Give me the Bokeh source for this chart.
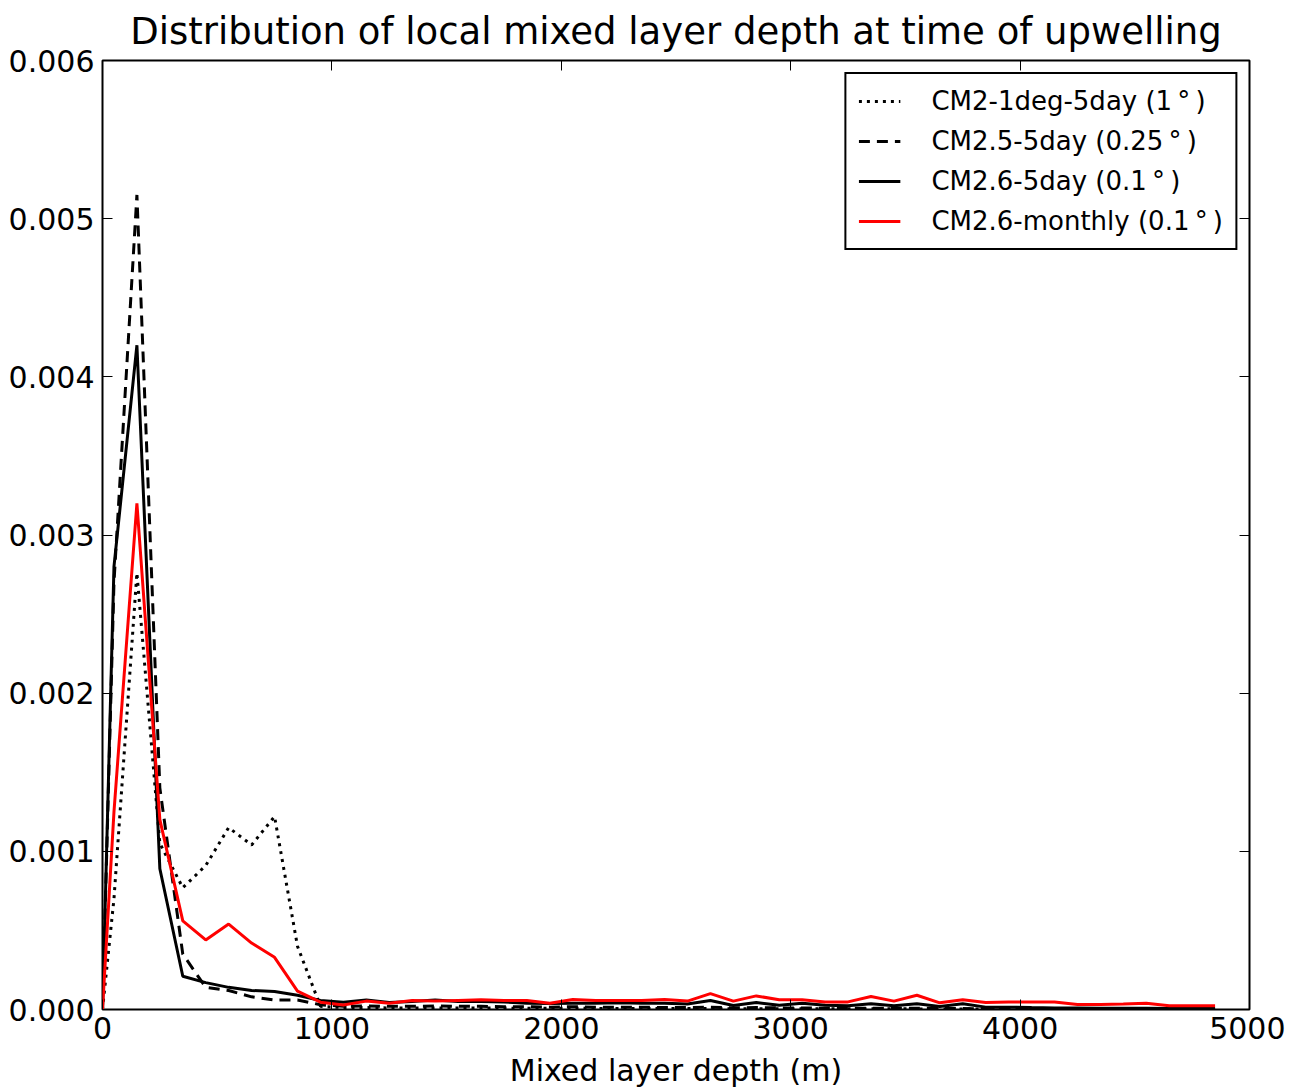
from bokeh.plotting import figure
from bokeh.models import (Range1d, LinearAxis, FixedTicker, NumeralTickFormatter,
                          Legend, LegendItem)
from bokeh.embed import file_html
from bokeh.resources import INLINE

# ---- data ----
depth = [0, 50, 150, 250, 350, 450, 550, 650, 750, 850, 950,
         1050, 1150, 1250, 1350, 1450, 1550, 1650, 1750, 1850, 1950,
         2050, 2150, 2250, 2350, 2450, 2550, 2650, 2750, 2850, 2950,
         3050, 3150, 3250, 3350, 3450, 3550, 3650, 3750, 3850, 3950,
         4050, 4150, 4250, 4350, 4450, 4550, 4650, 4750, 4850]

cm2_1deg_5day = [0, 0.0007, 0.00276, 0.00105, 0.00077, 0.00091, 0.00115, 0.00104, 0.00122, 0.0004, 0.00002,
                 0.000012, 0.000012, 0.00001, 0.00001, 0.00001, 0.00001, 0.000009, 0.000009, 0.000008, 0.000008,
                 0.000008, 0.000007, 0.000007, 0.000007, 0.000006, 0.000006, 0.000006, 0.000005, 0.000005, 0.000005,
                 0.000005, 0.000004, 0.000004, 0.000004, 0.000004, 0.000004, 0.000003, 0.000003, 0.000003, 0.000003,
                 0.000003, 0.000002, 0.000002, 0.000002, 0.000002, 0.000002, 0.000002, 0.000001, 0.000001]

cm25_5day = [0, 0.0027, 0.00515, 0.0014, 0.00035, 0.00014, 0.00012, 0.00008, 0.00006, 0.00006, 0.00003,
             0.00002, 0.000022, 0.00002, 0.00002, 0.000022, 0.00002, 0.00002, 0.000018, 0.000018, 0.000015,
             0.000018, 0.000015, 0.000015, 0.000015, 0.000012, 0.000012, 0.000015, 0.00001, 0.000012, 0.00001,
             0.00001, 0.000008, 0.000008, 0.000008, 0.000008, 0.000008, 0.000006, 0.000006, 0.000005, 0.000005,
             0.000004, 0.000004, 0.000004, 0.000003, 0.000003, 0.000003, 0.000003, 0.000002, 0.000002]

cm26_5day = [0, 0.0028, 0.0042, 0.00089, 0.00021, 0.00017, 0.00014, 0.00012, 0.000114, 0.00009, 0.000057,
             0.000046, 0.00006, 0.000044, 0.00005, 0.00006, 0.00005, 0.00005, 0.000048, 0.00004, 0.000038,
             0.00004, 0.00004, 0.000042, 0.00004, 0.00004, 0.000035, 0.000057, 0.000025, 0.000044, 0.000027,
             0.00004, 0.000027, 0.000023, 0.000036, 0.000023, 0.000036, 0.000019, 0.000036, 0.000015, 0.000015,
             0.000012, 0.00001, 0.00001, 0.000008, 0.000008, 0.000008, 0.000006, 0.000006, 0.000006]

cm26_monthly = [0, 0.00125, 0.0032, 0.0012, 0.00056, 0.00044, 0.00054, 0.00042, 0.00033, 0.000116, 0.000046,
                0.000028, 0.000053, 0.00004, 0.000057, 0.000053, 0.000057, 0.000061, 0.000057, 0.000057, 0.00004,
                0.000063, 0.000057, 0.000057, 0.000057, 0.000063, 0.000053, 0.0001, 0.000053, 0.000086, 0.000061,
                0.000061, 0.000048, 0.000048, 0.000082, 0.000053, 0.00009, 0.000042, 0.000061, 0.000044, 0.000048,
                0.000048, 0.000048, 0.000032, 0.000032, 0.000034, 0.00004, 0.000023, 0.000023, 0.000023]

series_labels = ["CM2-1deg-5day (1\u2009°\u2009)", "CM2.5-5day (0.25\u2009°\u2009)",
                 "CM2.6-5day (0.1\u2009°\u2009)", "CM2.6-monthly (0.1\u2009°\u2009)"]

x_ticks = [0, 1000, 2000, 3000, 4000, 5000]
y_ticks = [0.0, 0.001, 0.002, 0.003, 0.004, 0.005, 0.006]

FONT = "DejaVu Sans"

p = figure(frame_width=1147, frame_height=949,
           x_range=Range1d(0, 5000), y_range=Range1d(0, 0.006),
           output_backend="svg", toolbar_location=None,
           min_border_left=102, min_border_top=60, min_border_right=36, min_border_bottom=40,
           background_fill_color="white", border_fill_color="white")

p.title.text = "Distribution of local mixed layer depth at time of upwelling"
p.title.align = "center"
p.title.text_font = FONT
p.title.text_font_size = "37px"
p.title.text_font_style = "normal"
p.title.text_color = "black"
p.title.standoff = 15
p.title.offset = 0

p.xgrid.visible = False
p.ygrid.visible = False
p.outline_line_color = "black"
p.outline_line_width = 2
p.outline_line_alpha = 1.0

bottom_axis = p.below[0]
left_axis = p.left[0]
top_axis = LinearAxis()
right_axis = LinearAxis()
p.add_layout(top_axis, "above")
p.add_layout(right_axis, "right")

for ax in [bottom_axis, top_axis]:
    ax.ticker = FixedTicker(ticks=x_ticks)
for ax in [left_axis, right_axis]:
    ax.ticker = FixedTicker(ticks=y_ticks)
    ax.formatter = NumeralTickFormatter(format="0.000")

for ax in [bottom_axis, left_axis, top_axis, right_axis]:
    ax.axis_line_color = None
    ax.major_tick_in = 10
    ax.major_tick_out = 0
    ax.major_tick_line_color = "black"
    ax.major_tick_line_width = 1
    ax.minor_tick_line_color = None
    ax.major_label_text_font = FONT
    ax.major_label_text_font_size = "30px"
    ax.major_label_text_color = "black"

top_axis.major_label_overrides = {t: "" for t in x_ticks}
right_axis.major_label_overrides = {t: "" for t in y_ticks}
for ax in [top_axis, right_axis]:
    ax.major_label_text_font_size = "1px"
    ax.major_label_standoff = 0

bottom_axis.major_label_standoff = 7
left_axis.major_label_standoff = 8
bottom_axis.axis_label = "Mixed layer depth (m)"
bottom_axis.axis_label_text_font = FONT
bottom_axis.axis_label_text_font_size = "30px"
bottom_axis.axis_label_text_font_style = "normal"
bottom_axis.axis_label_text_color = "black"
bottom_axis.axis_label_standoff = 11

r1 = p.line(depth, cm2_1deg_5day, line_color="black", line_width=3, line_dash="3 5")
r2 = p.line(depth, cm25_5day, line_color="black", line_width=3, line_dash="11 7")
r3 = p.line(depth, cm26_5day, line_color="black", line_width=3)
r4 = p.line(depth, cm26_monthly, line_color="#ff0000", line_width=3)

legend = Legend(items=[LegendItem(label=series_labels[0], renderers=[r1]),
                       LegendItem(label=series_labels[1], renderers=[r2]),
                       LegendItem(label=series_labels[2], renderers=[r3]),
                       LegendItem(label=series_labels[3], renderers=[r4])],
                location="top_right")
legend.margin = 12
legend.padding = 12
legend.spacing = 10
legend.glyph_width = 42
legend.glyph_height = 24
legend.label_height = 24
legend.label_width = 290
legend.label_standoff = 31
legend.label_text_font = FONT
legend.label_text_font_size = "26px"
legend.label_text_color = "black"
legend.border_line_color = "black"
legend.border_line_width = 2
legend.border_line_alpha = 1.0
legend.background_fill_color = "white"
legend.background_fill_alpha = 1.0
p.add_layout(legend)

open("out.html", "w").write(file_html(p, INLINE))
